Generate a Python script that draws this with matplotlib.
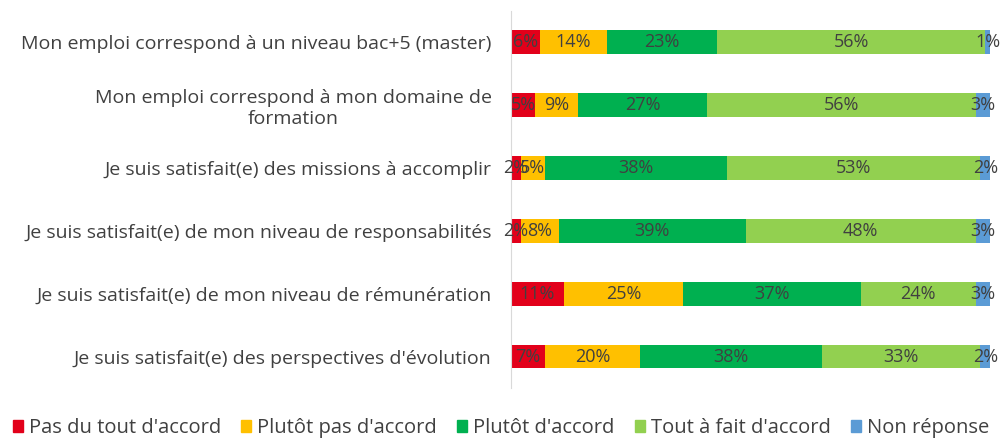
import matplotlib
matplotlib.use("Agg")
import matplotlib.pyplot as plt
from matplotlib.patches import Patch

categories = [
    "Mon emploi correspond à un niveau bac+5 (master)",
    "Mon emploi correspond à mon domaine de\nformation",
    "Je suis satisfait(e) des missions à accomplir",
    "Je suis satisfait(e) de mon niveau de responsabilités",
    "Je suis satisfait(e) de mon niveau de rémunération",
    "Je suis satisfait(e) des perspectives d'évolution",
]
series_names = ["Pas du tout d'accord", "Plutôt pas d'accord", "Plutôt d'accord",
                "Tout à fait d'accord", "Non réponse"]
pas_du_tout = [6, 5, 2, 2, 11, 7]
plutot_pas = [14, 9, 5, 8, 25, 20]
plutot = [23, 27, 38, 39, 37, 38]
tout_a_fait = [56, 56, 53, 48, 24, 33]
non_reponse = [1, 3, 2, 3, 3, 2]
series = [pas_du_tout, plutot_pas, plutot, tout_a_fait, non_reponse]
colors = ["#E2001A", "#FFC000", "#00B050", "#92D050", "#5B9BD5"]

plt.rcParams['font.family'] = ['Open Sans', 'DejaVu Sans']
fig = plt.figure(figsize=(10.02, 4.43), dpi=100)
ax = fig.add_axes([511/1002, 1-388/443, (990-511)/1002, (388-10.5)/443])

ypos = list(range(len(categories)))
left = [0]*len(categories)
for vals, col in zip(series, colors):
    ax.barh(ypos, vals, left=left, color=col, height=0.38)
    for i, v in enumerate(vals):
        ax.text(left[i] + v/2, ypos[i], f"{v}%", ha='center', va='center',
                fontsize=13, color='#404040')
    left = [l + v for l, v in zip(left, vals)]

ax.set_xlim(0, 100)
ax.set_ylim(len(categories)-0.5, -0.5)
ax.set_yticks(ypos)
ax.set_yticklabels(categories, fontsize=14, color='#404040', multialignment='center',
                   linespacing=1.25)
ax.tick_params(axis='y', length=0, pad=14)
ax.set_xticks([])
for s in ['top', 'right', 'bottom']:
    ax.spines[s].set_visible(False)
ax.spines['left'].set_color('#D9D9D9')

handles = [Patch(color=c, label=n) for c, n in zip(colors, series_names)]
fig.legend(handles=handles, loc='center', bbox_to_anchor=(0.5, 1-428/443), ncol=5,
           frameon=False, fontsize=14.5, handlelength=0.5, handleheight=0.5,
           handletextpad=0.3, columnspacing=1.0, labelcolor='#404040')

fig.savefig("out.png", dpi=100)
